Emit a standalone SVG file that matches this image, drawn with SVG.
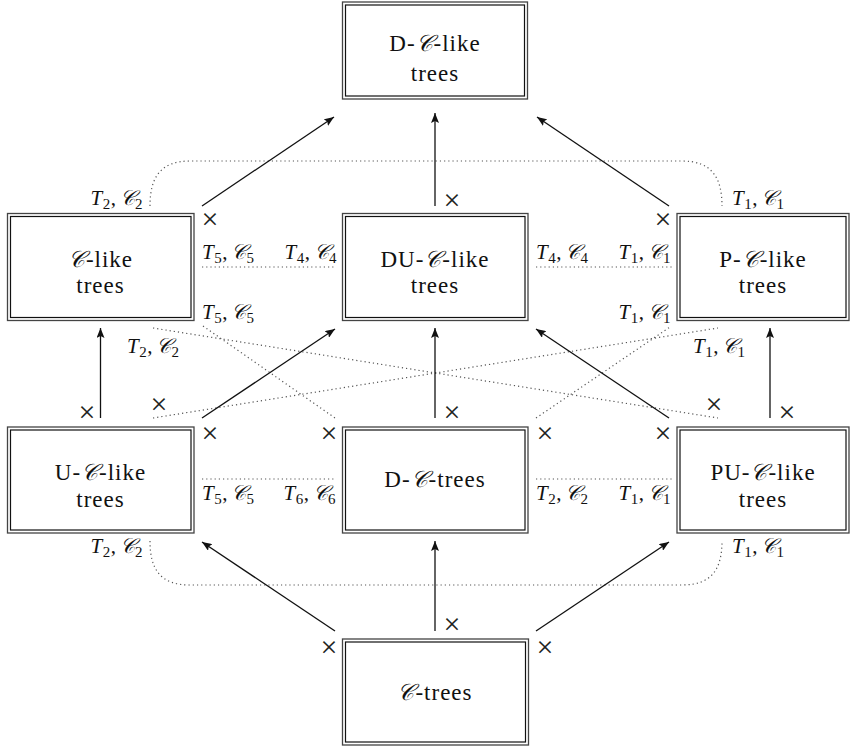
<svg xmlns="http://www.w3.org/2000/svg" width="856" height="749" viewBox="0 0 856 749">
<style>
.bo{fill:none;stroke:#444;stroke-width:1.3}
.bi{fill:#fff;stroke:#111;stroke-width:1.2}
text{font-family:'Liberation Serif','Times New Roman',serif}
.nt{font-size:23px;fill:#111;text-anchor:middle;letter-spacing:1px}
.lb{font-size:21px;fill:#111;letter-spacing:0.5px}
.it{font-style:italic}
.sb{font-size:15px}
.cal{font-style:italic}
.x{font-size:30px;fill:#222;text-anchor:middle}
.ar{fill:none;stroke:#111;stroke-width:1.3;marker-end:url(#ah)}
.dt{fill:none;stroke:#555;stroke-width:1.2;stroke-dasharray:1.2 3}
</style>
<defs>
<marker id="ah" viewBox="0 0 10 8" refX="10" refY="4" markerWidth="10" markerHeight="8" markerUnits="userSpaceOnUse" orient="auto">
<path d="M0,0 L10,4 L0,8 L2,4 z" fill="#111"/>
</marker>
</defs>
<rect width="856" height="749" fill="#fff"/>

<g id="connectors">
<path class="dt" d="M150,206 C150,178 160,161 190,161 H682 C712,161 722,178 722,206"/>
<path class="dt" d="M150,541 C150,569 160,585 190,585 H682 C712,585 722,569 722,541"/>
<line class="dt" x1="202" y1="267" x2="336" y2="267"/>
<line class="dt" x1="536" y1="267" x2="672" y2="267"/>
<line class="dt" x1="202" y1="479" x2="336" y2="479"/>
<line class="dt" x1="536" y1="479" x2="672" y2="479"/>
<line class="dt" x1="153" y1="328" x2="718" y2="418"/>
<line class="dt" x1="153" y1="418" x2="718" y2="328"/>
<line class="dt" x1="203" y1="326" x2="335" y2="418"/>
<line class="dt" x1="536" y1="418" x2="670" y2="327"/>
<line class="ar" x1="202" y1="206" x2="334" y2="117"/>
<line class="ar" x1="435" y1="206" x2="435" y2="113"/>
<line class="ar" x1="669" y1="206" x2="537" y2="117"/>
<line class="ar" x1="100.5" y1="418" x2="100.5" y2="328"/>
<line class="ar" x1="202" y1="418" x2="335" y2="329"/>
<line class="ar" x1="435" y1="418" x2="435" y2="328"/>
<line class="ar" x1="669" y1="418" x2="536" y2="329"/>
<line class="ar" x1="770" y1="418" x2="770" y2="328"/>
<line class="ar" x1="335" y1="631" x2="202" y2="542"/>
<line class="ar" x1="435" y1="631" x2="435" y2="541"/>
<line class="ar" x1="536" y1="631" x2="669" y2="542"/>
<text class="x" x="210" y="229">×</text>
<text class="x" x="452" y="210">×</text>
<text class="x" x="663" y="229">×</text>
<text class="x" x="87" y="422">×</text>
<text class="x" x="159" y="414">×</text>
<text class="x" x="210" y="443">×</text>
<text class="x" x="329" y="443">×</text>
<text class="x" x="452" y="422">×</text>
<text class="x" x="545" y="443">×</text>
<text class="x" x="663" y="443">×</text>
<text class="x" x="714" y="414">×</text>
<text class="x" x="787" y="422">×</text>
<text class="x" x="329" y="657">×</text>
<text class="x" x="452" y="634">×</text>
<text class="x" x="545" y="657">×</text>
<text class="lb" x="143" y="205" text-anchor="end"><tspan class="it">T</tspan><tspan class="sb" dy="4">2</tspan><tspan dy="-4">,</tspan><tspan class="cal" dx="3">𝒞</tspan><tspan class="sb" dy="4">2</tspan></text>
<text class="lb" x="732" y="205"><tspan class="it">T</tspan><tspan class="sb" dy="4">1</tspan><tspan dy="-4">,</tspan><tspan class="cal" dx="3">𝒞</tspan><tspan class="sb" dy="4">1</tspan></text>
<text class="lb" x="202" y="259"><tspan class="it">T</tspan><tspan class="sb" dy="4">5</tspan><tspan dy="-4">,</tspan><tspan class="cal" dx="3">𝒞</tspan><tspan class="sb" dy="4">5</tspan></text>
<text class="lb" x="337" y="259" text-anchor="end"><tspan class="it">T</tspan><tspan class="sb" dy="4">4</tspan><tspan dy="-4">,</tspan><tspan class="cal" dx="3">𝒞</tspan><tspan class="sb" dy="4">4</tspan></text>
<text class="lb" x="536" y="259"><tspan class="it">T</tspan><tspan class="sb" dy="4">4</tspan><tspan dy="-4">,</tspan><tspan class="cal" dx="3">𝒞</tspan><tspan class="sb" dy="4">4</tspan></text>
<text class="lb" x="671" y="259" text-anchor="end"><tspan class="it">T</tspan><tspan class="sb" dy="4">1</tspan><tspan dy="-4">,</tspan><tspan class="cal" dx="3">𝒞</tspan><tspan class="sb" dy="4">1</tspan></text>
<text class="lb" x="202" y="319"><tspan class="it">T</tspan><tspan class="sb" dy="4">5</tspan><tspan dy="-4">,</tspan><tspan class="cal" dx="3">𝒞</tspan><tspan class="sb" dy="4">5</tspan></text>
<text class="lb" x="671" y="319" text-anchor="end"><tspan class="it">T</tspan><tspan class="sb" dy="4">1</tspan><tspan dy="-4">,</tspan><tspan class="cal" dx="3">𝒞</tspan><tspan class="sb" dy="4">1</tspan></text>
<text class="lb" x="127" y="353"><tspan class="it">T</tspan><tspan class="sb" dy="4">2</tspan><tspan dy="-4">,</tspan><tspan class="cal" dx="3">𝒞</tspan><tspan class="sb" dy="4">2</tspan></text>
<text class="lb" x="693" y="353"><tspan class="it">T</tspan><tspan class="sb" dy="4">1</tspan><tspan dy="-4">,</tspan><tspan class="cal" dx="3">𝒞</tspan><tspan class="sb" dy="4">1</tspan></text>
<text class="lb" x="202" y="500"><tspan class="it">T</tspan><tspan class="sb" dy="4">5</tspan><tspan dy="-4">,</tspan><tspan class="cal" dx="3">𝒞</tspan><tspan class="sb" dy="4">5</tspan></text>
<text class="lb" x="336" y="500" text-anchor="end"><tspan class="it">T</tspan><tspan class="sb" dy="4">6</tspan><tspan dy="-4">,</tspan><tspan class="cal" dx="3">𝒞</tspan><tspan class="sb" dy="4">6</tspan></text>
<text class="lb" x="536" y="500"><tspan class="it">T</tspan><tspan class="sb" dy="4">2</tspan><tspan dy="-4">,</tspan><tspan class="cal" dx="3">𝒞</tspan><tspan class="sb" dy="4">2</tspan></text>
<text class="lb" x="671" y="500" text-anchor="end"><tspan class="it">T</tspan><tspan class="sb" dy="4">1</tspan><tspan dy="-4">,</tspan><tspan class="cal" dx="3">𝒞</tspan><tspan class="sb" dy="4">1</tspan></text>
<text class="lb" x="143" y="553" text-anchor="end"><tspan class="it">T</tspan><tspan class="sb" dy="4">2</tspan><tspan dy="-4">,</tspan><tspan class="cal" dx="3">𝒞</tspan><tspan class="sb" dy="4">2</tspan></text>
<text class="lb" x="732" y="553"><tspan class="it">T</tspan><tspan class="sb" dy="4">1</tspan><tspan dy="-4">,</tspan><tspan class="cal" dx="3">𝒞</tspan><tspan class="sb" dy="4">1</tspan></text>
</g>

<g id="n-dclike">
<rect class="bo" x="342.5" y="2" width="185" height="97"/>
<rect class="bi" x="345.5" y="5" width="179" height="91"/>
<text class="nt" x="435" y="51">D-<tspan class="cal">𝒞</tspan>-like</text>
<text class="nt" x="435" y="81">trees</text>
</g>
<g id="n-clike">
<rect class="bo" x="7.5" y="213.5" width="186.5" height="107"/>
<rect class="bi" x="10.5" y="216.5" width="180.5" height="101"/>
<text class="nt" x="100.5" y="267"><tspan class="cal">𝒞</tspan>-like</text>
<text class="nt" x="100.5" y="293">trees</text>
</g>
<g id="n-duclike">
<rect class="bo" x="342.5" y="213.5" width="185.5" height="107"/>
<rect class="bi" x="345.5" y="216.5" width="179.5" height="101"/>
<text class="nt" x="435" y="267">DU-<tspan class="cal">𝒞</tspan>-like</text>
<text class="nt" x="435" y="293">trees</text>
</g>
<g id="n-pclike">
<rect class="bo" x="677" y="213.5" width="172" height="107"/>
<rect class="bi" x="680" y="216.5" width="166" height="101"/>
<text class="nt" x="763" y="267">P-<tspan class="cal">𝒞</tspan>-like</text>
<text class="nt" x="763" y="293">trees</text>
</g>
<g id="n-uclike">
<rect class="bo" x="7.5" y="427" width="186.5" height="106"/>
<rect class="bi" x="10.5" y="430" width="180.5" height="100"/>
<text class="nt" x="100.5" y="480">U-<tspan class="cal">𝒞</tspan>-like</text>
<text class="nt" x="100.5" y="507">trees</text>
</g>
<g id="n-dctrees">
<rect class="bo" x="342.5" y="427" width="185.5" height="106"/>
<rect class="bi" x="345.5" y="430" width="179.5" height="100"/>
<text class="nt" x="435" y="487">D-<tspan class="cal">𝒞</tspan>-trees</text>
</g>
<g id="n-puclike">
<rect class="bo" x="677" y="427" width="172" height="106"/>
<rect class="bi" x="680" y="430" width="166" height="100"/>
<text class="nt" x="763" y="480">PU-<tspan class="cal">𝒞</tspan>-like</text>
<text class="nt" x="763" y="507">trees</text>
</g>
<g id="n-ctrees">
<rect class="bo" x="342.5" y="639" width="186" height="106"/>
<rect class="bi" x="345.5" y="642" width="180" height="100"/>
<text class="nt" x="435" y="700"><tspan class="cal">𝒞</tspan>-trees</text>
</g>
</svg>
